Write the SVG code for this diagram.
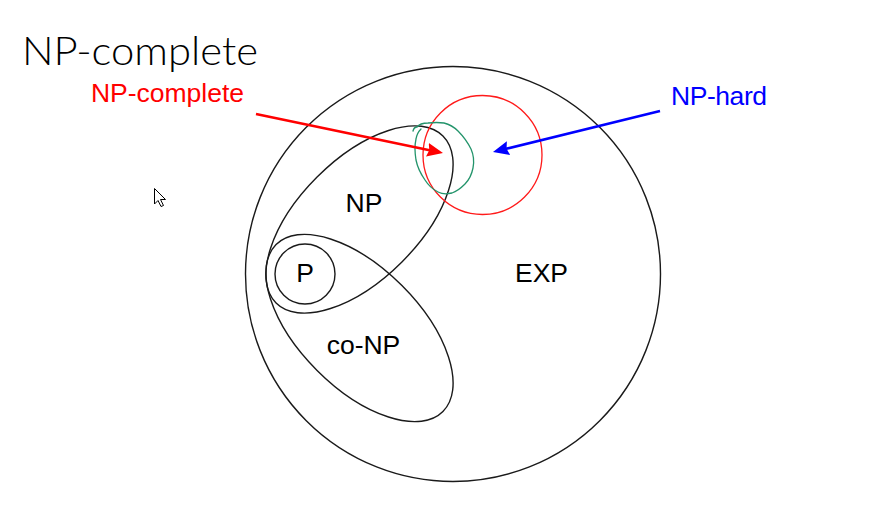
<svg xmlns="http://www.w3.org/2000/svg" width="890" height="519" viewBox="0 0 890 519">
<style>
.set{fill:none;stroke:#1a1a1a;stroke-width:1.4}
.lbl{font-family:"Liberation Sans",Arial,sans-serif;font-size:26.5px;fill:#000;text-anchor:middle}
.ann{font-family:"Liberation Sans",Arial,sans-serif;font-size:26.5px}
</style>
<defs>
<marker id="headR" markerUnits="userSpaceOnUse" markerWidth="16" markerHeight="14" refX="6" refY="7" orient="auto">
<path d="M0,0 L16,7 L0,14 L2,7 z" fill="#ff0000"/>
</marker>
<marker id="headB" markerUnits="userSpaceOnUse" markerWidth="16" markerHeight="14" refX="6" refY="7" orient="auto">
<path d="M0,0 L16,7 L0,14 L2,7 z" fill="#0000ff"/>
</marker>
</defs>
<rect width="890" height="519" fill="#fff"/>
<text x="22" y="65" font-family="Lato,'Open Sans',sans-serif" font-weight="300" font-size="40" fill="#000" textLength="236" lengthAdjust="spacingAndGlyphs">NP-complete</text>
<g id="EXP">
<circle class="set" cx="453" cy="274" r="207.5"/>
<text class="lbl" x="541.5" y="282">EXP</text>
</g>
<g id="NP">
<ellipse class="set" cx="359.5" cy="219.5" rx="118" ry="60" transform="rotate(-45 359.5 219.5)"/>
<text class="lbl" x="364" y="212">NP</text>
</g>
<g id="coNP">
<ellipse class="set" cx="359.5" cy="328" rx="118" ry="60" transform="rotate(45 359.5 328)"/>
<text class="lbl" x="363.5" y="354">co-NP</text>
</g>
<g id="P">
<circle class="set" cx="305" cy="274" r="30"/>
<text class="lbl" x="305" y="282">P</text>
</g>
<g id="NPhard">
<circle cx="482.5" cy="155" r="59.5" fill="none" stroke="#ff1a1a" stroke-width="1.3"/>
<text class="ann" x="671" y="105" fill="#0000ff" textLength="96">NP-hard</text>
</g>
<g id="NPcomplete">
<path d="M413,131 Q414,127 417,127 Q420,123 428,123 Q437,122 444,123 Q452,125 458,131 Q466,139 471,149 Q475,158 473,168 Q471,178 465,184 Q458,191 452,193 Q444,195 438,192 Q430,188 425,180 Q418,170 416,160 Q414,148 416,139 Q417,133 421,129" fill="none" stroke="#23946b" stroke-width="1.3" stroke-linejoin="round" stroke-linecap="round"/>
<text class="ann" x="91" y="102" fill="#ff0000" textLength="153">NP-complete</text>
</g>
<g id="connectors">
<line x1="256" y1="114" x2="433.2" y2="151" stroke="#ff0000" stroke-width="2.6" marker-end="url(#headR)"/>
<line x1="660" y1="111" x2="502.7" y2="149.6" stroke="#0000ff" stroke-width="2.6" marker-end="url(#headB)"/>
</g>
<path d="M154.5,188.5 L154.5,204 L158,200.5 L161,206.5 L163.5,205.5 L160.5,199.5 L165.5,199.5 Z" fill="#fff" stroke="#000" stroke-width="1" stroke-linejoin="miter"/>
</svg>
